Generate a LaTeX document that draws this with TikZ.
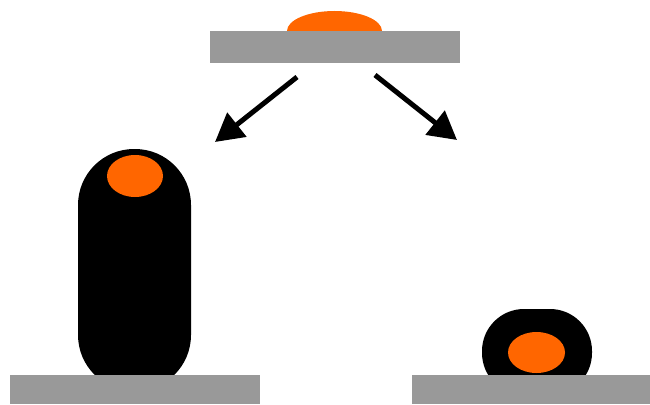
\documentclass[tikz,border=0pt]{standalone}
\usetikzlibrary{arrows.meta}
\definecolor{barGray}{HTML}{999999}
\definecolor{dropOrange}{HTML}{FF6600}
\tikzset{
  substrate/.style={fill=barGray, draw=none},
  drop/.style={fill=dropOrange, draw=none},
  shell/.style={fill=black, draw=none},
  flowarrow/.style={line width=5pt, -{Triangle[length=28pt,width=30pt]}, draw=black}
}
\begin{document}
\begin{tikzpicture}[x=1pt,y=-1pt]
\useasboundingbox (0,0) rectangle (650,404);
% top
\fill[drop] (334.5,31) ellipse [x radius=47.5, y radius=20];
\fill[substrate] (210,31) rectangle (460,63);
% arrows
\coordinate (l0) at (297,77);
\coordinate (l1) at (215,142);
\coordinate (r0) at (375,75);
\coordinate (r1) at (457,140);
\draw[flowarrow] (l0) -- (l1);
\draw[flowarrow] (r0) -- (r1);
% left pillar
\fill[shell, rounded corners=56pt] (78,149) rectangle (191,391);
\fill[drop] (135,176) ellipse [x radius=28, y radius=21];
\fill[substrate] (10,375) rectangle (260,404);
% right blob
\fill[shell, rounded corners=42pt] (482,309) rectangle (592,395);
\fill[drop] (536.5,352.5) ellipse [x radius=28.5, y radius=20.5];
\fill[substrate] (412,375) rectangle (650,404);
\end{tikzpicture}
\end{document}
